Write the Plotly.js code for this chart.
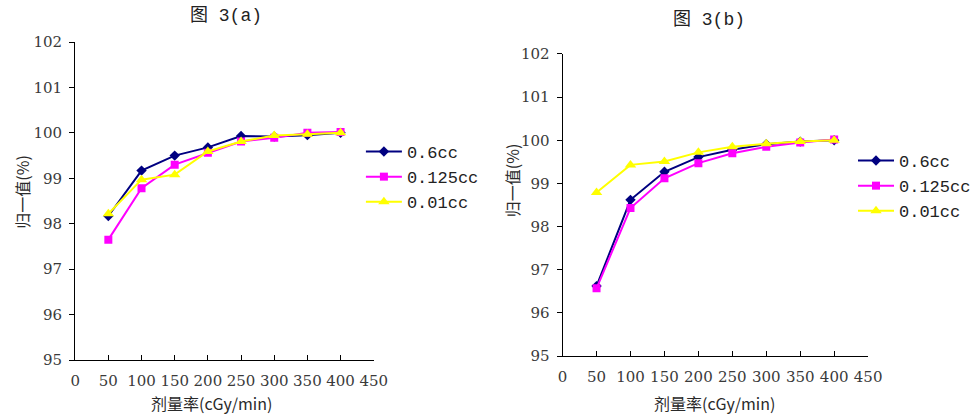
<!DOCTYPE html>
<html>
<head>
<meta charset="utf-8">
<script src="https://cdn.plot.ly/plotly-3.0.1.min.js"></script>
<style>html,body{margin:0;padding:0;background:#fff;}#chart{width:976px;height:416px;}</style>
</head>
<body>
<div id="chart"></div>
<script>
// Dose rates (cGy/min)
const doseRates = [50, 100, 150, 200, 250, 300, 350, 400];
const seriesNames = ['0.6cc', '0.125cc', '0.01cc'];

// Figure 3(a)
const a_06 = [98.17, 99.17, 99.50, 99.68, 99.93, 99.92, 99.95, 100.0];
const a_0125 = [97.65, 98.78, 99.30, 99.56, 99.81, 99.89, 100.0, 100.02];
const a_001 = [98.22, 98.97, 99.08, 99.59, 99.81, 99.94, 99.97, 100.0];

// Figure 3(b)
const b_06 = [96.62, 98.62, 99.27, 99.61, 99.78, 99.91, 99.97, 100.0];
const b_0125 = [96.57, 98.43, 99.12, 99.47, 99.70, 99.85, 99.95, 100.02];
const b_001 = [98.79, 99.43, 99.51, 99.72, 99.85, 99.92, 99.97, 100.0];

const titleA = '图 3(a)';
const titleB = '图 3(b)';
const xTitle = '剂量率(cGy/min)';
const yTitle = '归一值(%)';

const styles = [
  {color: '#000080', symbol: 'diamond', size: 8},
  {color: '#FF00FF', symbol: 'square', size: 8},
  {color: '#FFFF00', symbol: 'triangle-up', size: 10}
];

function mk(y, i, xa, ya, leg) {
  return {
    x: doseRates, y: y, name: seriesNames[i], type: 'scatter', mode: 'lines+markers',
    xaxis: xa, yaxis: ya, legend: leg,
    line: {color: styles[i].color, width: 2},
    marker: {color: styles[i].color, symbol: styles[i].symbol, size: styles[i].size}
  };
}

const data = [
  mk(a_06, 0, 'x', 'y', 'legend'),
  mk(a_0125, 1, 'x', 'y', 'legend'),
  mk(a_001, 2, 'x', 'y', 'legend'),
  mk(b_06, 0, 'x2', 'y2', 'legend2'),
  mk(b_0125, 1, 'x2', 'y2', 'legend2'),
  mk(b_001, 2, 'x2', 'y2', 'legend2')
];

const tickFont = {family: 'DejaVu Serif', size: 15, color: '#3a3a3a'};
const cjkFont = {family: 'Noto Sans CJK SC', size: 16, color: '#2a2a2a'};

function xax(domain, anchor) {
  return {
    domain: domain, anchor: anchor, range: [0, 450], dtick: 50, tick0: 0,
    showgrid: false, zeroline: false, showline: true, linecolor: '#000', linewidth: 1,
    ticks: 'inside', ticklen: 5, tickcolor: '#000', tickfont: tickFont,
    ticklabelstandoff: 7, fixedrange: true
  };
}
function yax(domain, anchor) {
  return {
    domain: domain, anchor: anchor, range: [95, 102], dtick: 1, tick0: 95,
    showgrid: false, zeroline: false, showline: true, linecolor: '#000', linewidth: 1,
    ticks: 'outside', ticklen: 5, tickcolor: '#000', tickfont: tickFont,
    ticklabelstandoff: 4, fixedrange: true
  };
}

const legFont = {family: 'Liberation Mono', size: 17, color: '#222'};

function ann(text, x, y, font, angle) {
  return {text: text, x: x / 976, y: 1 - y / 416, xref: 'paper', yref: 'paper',
    xanchor: 'center', yanchor: 'middle', showarrow: false, font: font, textangle: angle || 0};
}

const titleFont = {family: 'Liberation Mono, Noto Sans CJK SC', size: 18, color: '#222'};

const layout = {
  width: 976, height: 416,
  margin: {l: 0, r: 0, t: 0, b: 0},
  paper_bgcolor: '#fff', plot_bgcolor: '#fff',
  showlegend: true,
  xaxis: xax([0.0779, 0.3873], 'y'),
  yaxis: yax([0.1346, 0.899], 'x'),
  xaxis2: xax([0.583, 0.8996], 'y2'),
  yaxis2: yax([0.1442, 0.8702], 'x2'),
  legend: {x: 0.374, xanchor: 'left', y: (416 - 134) / 416, yanchor: 'top',
    font: legFont, bgcolor: 'rgba(0,0,0,0)', itemwidth: 36, tracegroupgap: 0},
  legend2: {x: 0.884, xanchor: 'left', y: (416 - 143) / 416, yanchor: 'top',
    font: legFont, bgcolor: 'rgba(0,0,0,0)', itemwidth: 36, tracegroupgap: 0},
  annotations: [
    ann(titleA, 229, 16, titleFont),
    ann(titleB, 717, 20, titleFont),
    ann(xTitle, 214, 403, cjkFont),
    ann(xTitle, 723, 403, cjkFont),
    ann(yTitle, 22, 192, cjkFont, -90),
    ann(yTitle, 518, 180, cjkFont, -90)
  ]
};

Plotly.newPlot('chart', data, layout, {displayModeBar: false, staticPlot: true});
</script>
</body>
</html>
